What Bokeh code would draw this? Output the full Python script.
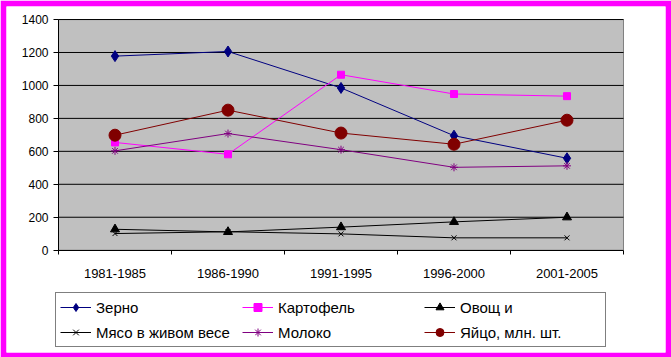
from bokeh.plotting import figure
from bokeh.models import LinearAxis, FixedTicker, Range1d, Legend, LegendItem
from bokeh.embed import file_html
from bokeh.resources import INLINE

periods = ["1981-1985", "1986-1990", "1991-1995", "1996-2000", "2001-2005"]
zerno = [1178, 1206, 985, 695, 558]
kartofel = [654, 582, 1065, 948, 935]
ovoshchi = [127, 111, 140, 172, 200]
myaso = [101, 112, 99, 75, 75]
moloko = [603, 708, 610, 503, 512]
yaytso = [698, 850, 711, 643, 789]
y_ticks = [0, 200, 400, 600, 800, 1000, 1200, 1400]

x = list(range(len(periods)))
bounds_x = [i - 0.5 for i in range(len(periods) + 1)]

FONT = "Liberation Sans"

p = figure(width=671, height=357, output_backend="svg", toolbar_location=None,
           x_axis_type=None, y_axis_type=None,
           x_range=Range1d(-0.9602, 4.8717), y_range=Range1d(-620.9, 1479.1),
           min_border_left=6, min_border_right=6, min_border_top=6, min_border_bottom=5)
p.border_fill_color = "#FF00FF"
p.background_fill_color = "white"
p.outline_line_color = None

# plot area
p.quad(left=bounds_x[0], right=bounds_x[-1], bottom=y_ticks[0], top=y_ticks[-1],
       fill_color="#C0C0C0", line_color="#808080", line_width=1)
gt = y_ticks[1:]
p.segment(x0=[bounds_x[0]] * len(gt), y0=gt, x1=[bounds_x[-1]] * len(gt), y1=gt,
          line_color="black", line_width=1)

series = [
    ("Зерно", zerno, "#000080", "diamond", 11),
    ("Картофель", kartofel, "#FF00FF", "square", 7),
    ("Овощ и", ovoshchi, "black", "triangle", 9),
    ("Мясо в живом весе", myaso, "black", "x", 7),
    ("Молоко", moloko, "#800080", "asterisk", 8),
    ("Яйцо, млн. шт.", yaytso, "#800000", "circle", 12),
]

items = []
for name, vals, col, mk, sz in series:
    l = p.line(x, vals, line_color=col, line_width=1)
    m = p.scatter(x, vals, marker=mk, size=sz, fill_color=col, line_color=col, line_width=1)
    items.append(LegendItem(label=name, renderers=[l, m]))

# y axis
yaxis = LinearAxis(fixed_location=bounds_x[0], bounds=(y_ticks[0], y_ticks[-1]),
                   ticker=FixedTicker(ticks=y_ticks))
yaxis.axis_line_color = "black"
yaxis.major_tick_line_color = "black"
yaxis.major_tick_out = 5
yaxis.major_tick_in = 0
yaxis.minor_tick_line_color = None
yaxis.major_label_standoff = 5
yaxis.major_label_text_font = FONT
yaxis.major_label_text_font_size = "12px"
yaxis.major_label_text_color = "black"
p.add_layout(yaxis, "left")

# x axis (ticks at category boundaries)
xaxis = LinearAxis(fixed_location=0, bounds=(bounds_x[0], bounds_x[-1]),
                   ticker=FixedTicker(ticks=bounds_x))
xaxis.axis_line_color = "black"
xaxis.major_tick_line_color = "black"
xaxis.major_tick_out = 4
xaxis.major_tick_in = 0
xaxis.minor_tick_line_color = None
xaxis.major_label_text_alpha = 0
p.add_layout(xaxis, "below")

# x labels at category centres
xlab = LinearAxis(fixed_location=0, ticker=FixedTicker(ticks=x),
                  major_label_overrides={i: s for i, s in enumerate(periods)})
xlab.axis_line_color = None
xlab.major_tick_line_color = None
xlab.minor_tick_line_color = None
xlab.major_label_standoff = 13
xlab.major_label_text_font = FONT
xlab.major_label_text_font_size = "13px"
xlab.major_label_text_color = "black"
p.add_layout(xlab, "below")

legend = Legend(items=items, orientation="horizontal", ncols=3, location=(49, 5),
                label_text_font=FONT, label_text_font_size="15px",
                label_text_color="black", glyph_width=31, glyph_height=20,
                label_height=20, label_width=141, label_standoff=5, spacing=5,
                padding=4, margin=0, border_line_color="black", border_line_width=1,
                background_fill_color="white", background_fill_alpha=1)
p.add_layout(legend, "center")

open("out.html", "w").write(file_html(p, INLINE))
